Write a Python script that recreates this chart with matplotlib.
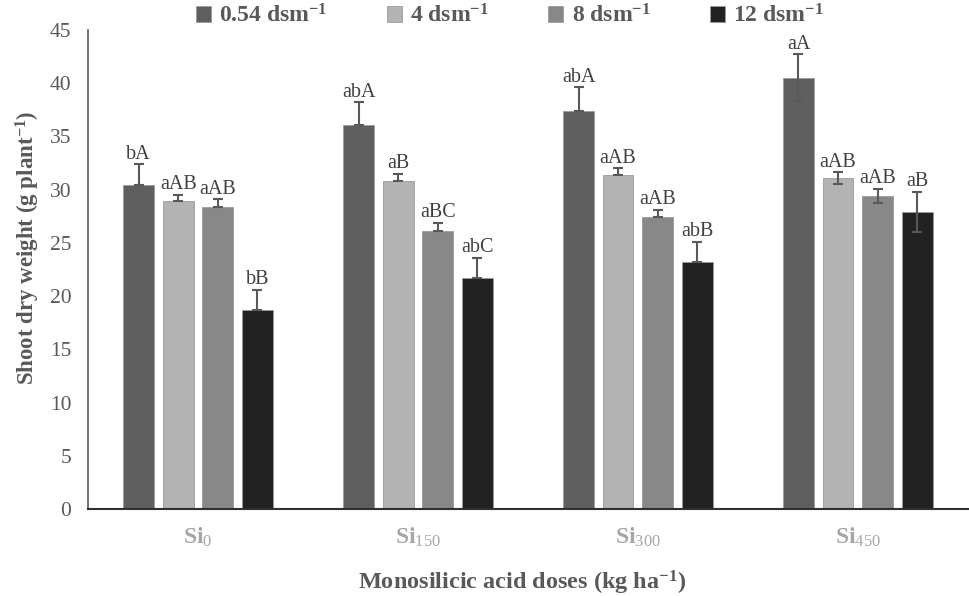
import numpy as np
import matplotlib
matplotlib.use('Agg')
import matplotlib.pyplot as plt

plt.rcParams['font.family'] = ['Liberation Serif', 'DejaVu Serif']
plt.rcParams['mathtext.fontset'] = 'custom'
plt.rcParams['mathtext.rm'] = 'Liberation Serif'
plt.rcParams['mathtext.it'] = 'Liberation Serif:italic'
plt.rcParams['mathtext.bf'] = 'Liberation Serif:bold'

# data
groups = [r'$\mathbf{Si}_{0}$', r'$\mathbf{Si}_{150}$', r'$\mathbf{Si}_{300}$', r'$\mathbf{Si}_{450}$']
series_names = [r'0.54 dsm$^{\mathbf{-1}}$', r'4 dsm$^{\mathbf{-1}}$',
                r'8 dsm$^{\mathbf{-1}}$', r'12 dsm$^{\mathbf{-1}}$']
ec_054 = [30.4, 36.1, 37.4, 40.5]
ec_4 = [28.9, 30.8, 31.4, 31.1]
ec_8 = [28.4, 26.1, 27.4, 29.4]
ec_12 = [18.7, 21.7, 23.2, 27.9]
err_054 = [2.0, 2.1, 2.2, 2.2]
err_4 = [0.6, 0.7, 0.6, 0.55]
err_8 = [0.7, 0.8, 0.7, 0.7]
err_12 = [1.9, 1.9, 1.9, 1.9]
# lower error bars are only shown for the last group
lower_shown = [0, 0, 0, 1]
lab_054 = ['bA', 'abA', 'abA', 'aA']
lab_4 = ['aAB', 'aB', 'aAB', 'aAB']
lab_8 = ['aAB', 'aBC', 'aAB', 'aAB']
lab_12 = ['bB', 'abC', 'abB', 'aB']

values = [ec_054, ec_4, ec_8, ec_12]
errors = [err_054, err_4, err_8, err_12]
letters = [lab_054, lab_4, lab_8, lab_12]
colors = ['#5f5f5f', '#b3b3b3', '#888888', '#222222']
txt = '#595959'

fig = plt.figure(figsize=(9.69, 5.96), dpi=100)
ax = fig.add_axes([0.0908, 0.146, 0.908, 0.8037])

x = np.arange(len(groups))
width = 0.14
offsets = [-0.27, -0.09, 0.09, 0.27]
handles = []
for i in range(4):
    v = np.array(values[i])
    e = np.array(errors[i])
    lo = e * np.array(lower_shown)
    b = ax.bar(x + offsets[i], v, width, color=colors[i], edgecolor='#9a9a9a',
               linewidth=0.6, zorder=2)
    handles.append(b)
    ax.errorbar(x + offsets[i], v, yerr=[lo, e], fmt='none', ecolor=txt,
                elinewidth=1.5, capsize=3.5, capthick=1.5, zorder=3)
    for j in range(len(v)):
        ax.text(x[j] + offsets[i], v[j] + e[j] + 0.05, letters[i][j], ha='center',
                va='bottom', fontsize=14.5, color='#404040', zorder=4)

ax.set_xlim(-0.5, 3.5)
ax.set_ylim(0, 45)
ax.set_yticks(np.arange(0, 46, 5))
ax.set_xticks(x)
ax.set_xticklabels(groups, fontsize=17, color='#a6a6a6')
ax.tick_params(axis='y', length=0, pad=12, labelsize=15.5, labelcolor=txt)
ax.tick_params(axis='x', length=0, pad=12)
for s in ['top', 'right']:
    ax.spines[s].set_visible(False)
ax.spines['left'].set_color(txt)
ax.spines['left'].set_linewidth(1.2)
ax.spines['bottom'].set_color('#303030')
ax.spines['bottom'].set_linewidth(1.5)

ax.set_ylabel(r'Shoot dry weight (g plant$^{\mathbf{-1}}$)', fontsize=16.5,
              fontweight='bold', color=txt)
ax.yaxis.set_label_coords(-0.052, 0.545)
ax.set_xlabel(r'Monosilicic acid doses (kg ha$^{\mathbf{-1}}$)', fontsize=17.5,
              fontweight='bold', color=txt)
ax.xaxis.set_label_coords(0.494, -0.124)

leg = fig.legend(handles, series_names, loc='center', bbox_to_anchor=(0.526, 0.974),
                 ncol=4, frameon=False, handlelength=0.65, handleheight=0.65,
                 handletextpad=0.35, columnspacing=2.5,
                 prop={'weight': 'bold', 'size': 17})
for t in leg.get_texts():
    t.set_color(txt)

fig.savefig('out.png', dpi=100)
